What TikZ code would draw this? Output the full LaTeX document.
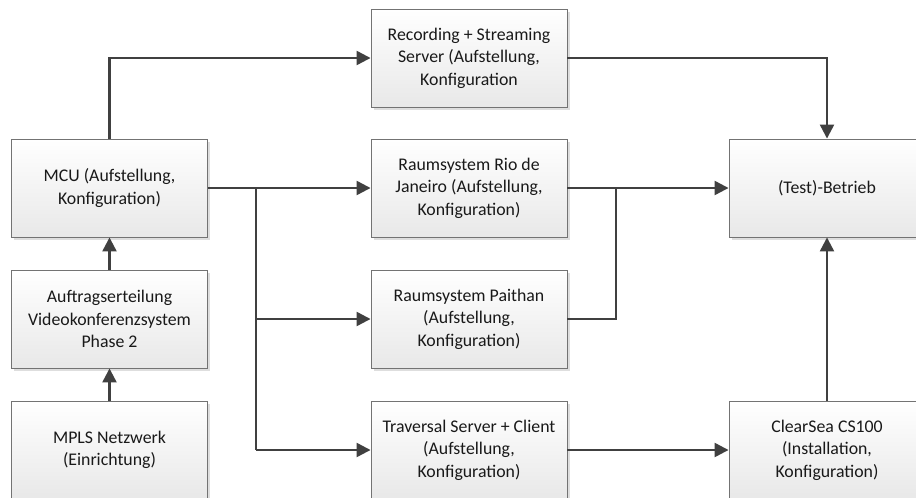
\documentclass[tikz,border=0pt]{standalone}
\usepackage{fontspec}
\setmainfont{Carlito}
\usetikzlibrary{arrows.meta,shadows}
\begin{document}
\begin{tikzpicture}[x=1pt,y=-1pt,
  box/.style={rectangle, draw=black!55, line width=0.9pt,
    top color=white, bottom color=black!9,
    drop shadow={shadow xshift=2.5pt, shadow yshift=-2.5pt, fill=black!13, opacity=1},
    minimum width=196pt, minimum height=98pt, inner sep=2pt,
    align=center, font=\fontsize{17.8}{22.5}\selectfont, text=black!90},
  flow/.style={draw=black!75, line width=2.3pt,
    -{Triangle[length=14pt,width=14pt]}},
  link/.style={draw=black!75, line width=2.3pt}]
\clip (0,0) rectangle (916,498);
\fill[white] (0,0) rectangle (916,498);

% left column
\node[box] (mcu)  at (109.5,188) {MCU (Aufstellung,\\Konfiguration)};
\node[box] (auf)  at (109.5,319) {Auftragserteilung\\Videokonferenzsystem\\Phase 2};
\node[box] (mpls) at (109.5,450) {MPLS Netzwerk\\(Einrichtung)};

% middle column
\node[box] (rec)  at (469,58)  {Recording + Streaming\\Server (Aufstellung,\\Konfiguration};
\node[box] (rio)  at (469,188) {Raumsystem Rio de\\Janeiro (Aufstellung,\\Konfiguration)};
\node[box] (pai)  at (469,319) {Raumsystem Paithan\\(Aufstellung,\\Konfiguration)};
\node[box] (trav) at (469,450) {Traversal Server + Client\\(Aufstellung,\\Konfiguration)};

% right column
\node[box] (test)  at (827,188) {(Test)-Betrieb};
\node[box] (clear) at (827,450) {ClearSea CS100\\(Installation,\\Konfiguration)};

% branch and join points
\coordinate (split)  at (256,188);
\coordinate (splitp) at (256,319);
\coordinate (splitt) at (256,450);
\coordinate (join)   at (616,188);

% connectors
\draw[flow] (mpls.north) -- (auf.south);
\draw[flow] (auf.north) -- (mcu.south);
\draw[flow] (mcu.north) |- (rec.west);
\draw[flow] (rec.east) -| (test.north);
\draw[flow] (mcu.east) -- (rio.west);
\draw[link] (split) -- (splitt);
\draw[flow] (splitp) -- (pai.west);
\draw[flow] (splitt) -- (trav.west);
\draw[flow] (rio.east) -- (test.west);
\draw[link] (pai.east) -| (join);
\draw[flow] (trav.east) -- (clear.west);
\draw[flow] (clear.north) -- (test.south);
\end{tikzpicture}
\end{document}
